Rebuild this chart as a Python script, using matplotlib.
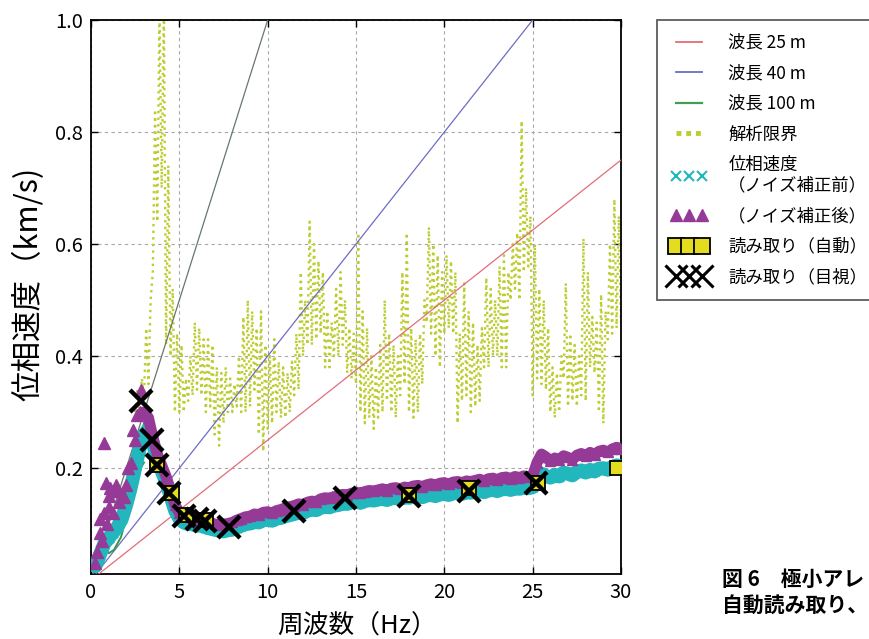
import numpy as np
import matplotlib
matplotlib.use("Agg")
import matplotlib.pyplot as plt
from matplotlib.lines import Line2D

plt.rcParams['font.family'] = ['Noto Sans CJK JP', 'DejaVu Sans']

# ---------------- data ----------------
# wavelength reference lines (m) -> v = f * lambda / 1000
wavelengths = [25, 40, 100]
line_freq = [0.0, 30.0]

# phase velocity before noise correction (cyan), f = 0.25..30 step 0.25
freq_cyan = np.arange(0.25, 30.001, 0.25)
v_cyan = [0.025, 0.045, 0.065, 0.075, 0.085, 0.095, 0.11, 0.135, 0.165, 0.2,
          0.235, 0.26, 0.27, 0.245, 0.215, 0.195, 0.175, 0.15, 0.125, 0.11,
          0.103, 0.1, 0.1, 0.097, 0.098, 0.094, 0.092, 0.09, 0.088, 0.087,
          0.089, 0.09, 0.094, 0.097, 0.1, 0.101, 0.104, 0.103, 0.107, 0.108,
          0.106, 0.11, 0.111, 0.114, 0.116, 0.118, 0.121, 0.12, 0.124, 0.126,
          0.125, 0.129, 0.131, 0.13, 0.133, 0.134, 0.137, 0.136, 0.139, 0.14,
          0.138, 0.141, 0.143, 0.142, 0.144, 0.145, 0.143, 0.146, 0.147, 0.145,
          0.148, 0.147, 0.149, 0.15, 0.148, 0.151, 0.152, 0.15, 0.153, 0.154,
          0.152, 0.155, 0.156, 0.154, 0.157, 0.156, 0.158, 0.159, 0.157, 0.16,
          0.161, 0.159, 0.162, 0.163, 0.161, 0.164, 0.163, 0.165, 0.164, 0.166,
          0.18, 0.19, 0.186, 0.183, 0.188, 0.185, 0.192, 0.19, 0.187, 0.193,
          0.196, 0.192, 0.197, 0.194, 0.199, 0.2, 0.197, 0.202, 0.205, 0.203]

# phase velocity after noise correction (purple), band part f = 3.0..30
freq_purple = np.arange(3.0, 30.001, 0.25)
v_purple = [0.3, 0.29, 0.255, 0.225, 0.205, 0.185, 0.16, 0.135, 0.12, 0.115,
            0.112, 0.11, 0.108, 0.108, 0.105, 0.103, 0.1, 0.099, 0.1, 0.101,
            0.103, 0.107, 0.11, 0.113, 0.114, 0.118, 0.117, 0.121, 0.122, 0.12,
            0.124, 0.126, 0.129, 0.131, 0.133, 0.136, 0.135, 0.139, 0.141, 0.14,
            0.145, 0.147, 0.146, 0.149, 0.15, 0.153, 0.152, 0.155, 0.157, 0.155,
            0.158, 0.16, 0.159, 0.161, 0.163, 0.16, 0.164, 0.165, 0.163, 0.166,
            0.165, 0.168, 0.169, 0.167, 0.17, 0.172, 0.169, 0.173, 0.174, 0.171,
            0.175, 0.176, 0.174, 0.177, 0.176, 0.178, 0.18, 0.177, 0.181, 0.182,
            0.179, 0.183, 0.184, 0.181, 0.185, 0.183, 0.186, 0.184, 0.187, 0.21,
            0.225, 0.22, 0.212, 0.218, 0.214, 0.222, 0.219, 0.215, 0.223, 0.226,
            0.221, 0.228, 0.224, 0.23, 0.232, 0.228, 0.234, 0.237, 0.235]

# purple scattered points at low frequency
freq_purple_low = [0.25, 0.35, 0.5, 0.5, 0.6, 0.75, 0.75, 0.85, 0.9, 1.0, 1.0, 1.1,
                   1.25, 1.25, 1.4, 1.5, 1.6, 1.75, 1.85, 2.0, 2.1, 2.25, 2.4,
                   2.5, 2.6, 2.75, 2.85]
v_purple_low = [0.03, 0.05, 0.085, 0.11, 0.07, 0.245, 0.12, 0.173, 0.1, 0.15, 0.13,
                0.165, 0.12, 0.16, 0.17, 0.16, 0.14, 0.15, 0.148, 0.17, 0.2,
                0.21, 0.268, 0.25, 0.295, 0.3, 0.34]

# green curve at low frequency
freq_green = [0.3, 0.55, 0.8, 1.0, 1.3, 1.7, 2.05, 2.3, 2.6, 2.8, 3.0]
v_green = [0.02, 0.045, 0.06, 0.048, 0.054, 0.077, 0.12, 0.16, 0.19, 0.2, 0.21]

# analysis limit: lower / upper envelope of the oscillating curve, f = 2.5..30
freq_limit = np.arange(2.5, 30.001, 0.25)
limit_lo = [0.3, 0.3, 0.33, 0.35, 0.55, 0.64, 0.7, 0.42, 0.4, 0.3,
            0.3, 0.3, 0.32, 0.33, 0.34, 0.33, 0.3, 0.31, 0.26, 0.24,
            0.28, 0.3, 0.3, 0.31, 0.3, 0.3, 0.31, 0.34, 0.26, 0.23,
            0.27, 0.28, 0.3, 0.29, 0.29, 0.3, 0.33, 0.34, 0.4, 0.42,
            0.42, 0.43, 0.44, 0.38, 0.38, 0.4, 0.4, 0.42, 0.37, 0.36,
            0.35, 0.3, 0.28, 0.29, 0.27, 0.29, 0.3, 0.32, 0.3, 0.29,
            0.33, 0.35, 0.3, 0.29, 0.3, 0.35, 0.46, 0.44, 0.4, 0.38,
            0.44, 0.45, 0.44, 0.28, 0.32, 0.33, 0.3, 0.31, 0.32, 0.38,
            0.38, 0.4, 0.4, 0.38, 0.38, 0.5, 0.52, 0.5, 0.55, 0.56,
            0.33, 0.36, 0.35, 0.34, 0.3, 0.29, 0.3, 0.36, 0.31, 0.32,
            0.31, 0.33, 0.32, 0.38, 0.37, 0.3, 0.28, 0.43, 0.44, 0.45, 0.46]
limit_hi = [0.34, 0.36, 0.45, 0.5, 0.84, 1.02, 1.02, 0.74, 0.52, 0.44,
            0.42, 0.36, 0.4, 0.46, 0.45, 0.43, 0.43, 0.42, 0.38, 0.37,
            0.38, 0.36, 0.35, 0.4, 0.47, 0.5, 0.48, 0.45, 0.48, 0.42,
            0.4, 0.43, 0.39, 0.38, 0.37, 0.39, 0.44, 0.55, 0.5, 0.64,
            0.6, 0.57, 0.55, 0.48, 0.46, 0.52, 0.55, 0.5, 0.45, 0.44,
            0.62, 0.48, 0.45, 0.4, 0.38, 0.42, 0.5, 0.44, 0.42, 0.4,
            0.55, 0.62, 0.45, 0.43, 0.44, 0.5, 0.63, 0.6, 0.58, 0.55,
            0.58, 0.57, 0.55, 0.44, 0.53, 0.48, 0.46, 0.42, 0.45, 0.54,
            0.52, 0.5, 0.56, 0.58, 0.55, 0.6, 0.62, 0.82, 0.7, 0.65,
            0.6, 0.52, 0.5, 0.45, 0.38, 0.37, 0.4, 0.53, 0.44, 0.42,
            0.4, 0.61, 0.55, 0.47, 0.46, 0.51, 0.48, 0.6, 0.68, 0.65, 0.6]

# picks: automatic (squares) and visual (X)
auto_f = [3.73, 4.6, 5.4, 6.5, 18.0, 21.4, 25.3, 29.8]
auto_v = [0.205, 0.155, 0.116, 0.107, 0.152, 0.164, 0.173, 0.2]
vis_f = [2.85, 3.45, 3.75, 4.4, 5.25, 6.0, 6.45, 7.8, 11.5, 14.4, 18.0, 21.4, 25.2]
vis_v = [0.32, 0.25, 0.205, 0.155, 0.115, 0.11, 0.105, 0.095, 0.123, 0.146, 0.15, 0.159, 0.174]

# ---------------- styling ----------------
C_RED = '#e36c7a'
C_BLUE = '#6c6cc4'
C_GREEN_LEG = '#3f9f55'
C_100 = '#66786a'
C_LIMIT = '#bccd30'
C_CYAN = '#22b6bd'
C_PURPLE = '#963a98'
C_SQ = '#e4dc1e'

fig = plt.figure(figsize=(8.69, 6.39), dpi=100)
ax = fig.add_axes([91 / 869, 1 - 574 / 639, (621 - 91) / 869, (574 - 20) / 639])

# analysis limit as zigzag between envelopes
zx, zy = [], []
for f, lo, hi in zip(freq_limit, limit_lo, limit_hi):
    zx += [f, f + 0.125]
    zy += [lo, hi]
ax.plot(zx, zy, color=C_LIMIT, lw=1.7, linestyle=(0, (1, 1.8)), zorder=2)

# wavelength lines
for wl, c in zip(wavelengths, [C_RED, C_BLUE, C_100]):
    ax.plot(line_freq, [line_freq[0] * wl / 1000, line_freq[1] * wl / 1000],
            color=c, lw=0.9, zorder=3)

# green low-frequency curve
ax.plot(freq_green, v_green, color='#2e9a48', lw=1.4, zorder=3)

# cyan band
ax.plot(freq_cyan, v_cyan, color=C_CYAN, lw=10, solid_joinstyle='round',
        solid_capstyle='round', zorder=4)
ax.plot(freq_cyan, v_cyan, linestyle='none', marker='x', ms=7, mew=1.5,
        color=C_CYAN, zorder=4)

# purple band
ax.plot(freq_purple, v_purple, color=C_PURPLE, lw=8, solid_joinstyle='round',
        solid_capstyle='round', zorder=5)
ax.plot(freq_purple, v_purple, linestyle='none', marker='^', ms=7,
        color=C_PURPLE, zorder=5)
ax.plot(freq_purple_low, v_purple_low, linestyle='none', marker='^', ms=8,
        color=C_PURPLE, zorder=5)

# picks
ax.plot(auto_f, auto_v, linestyle='none', marker='s', ms=10, mfc=C_SQ,
        mec='black', mew=1.3, zorder=6)
ax.plot(vis_f, vis_v, linestyle='none', marker='x', ms=16, mew=3.2,
        color='black', zorder=7)

ax.set_xlim(0, 30)
ax.set_ylim(0.011, 1.0)
ax.set_xticks([0, 5, 10, 15, 20, 25, 30])
ax.set_yticks([0.2, 0.4, 0.6, 0.8, 1.0])
ax.set_yticklabels(['0.2', '0.4', '0.6', '0.8', '1.0'])
ax.tick_params(direction='in', top=True, right=True, length=5, width=1,
               labelsize=14.5, pad=6)
ax.grid(True, color='#a8a8a8', linestyle=(0, (3, 3)), lw=0.8)
for s in ax.spines.values():
    s.set_linewidth(1.3)

fig.text(357 / 869, 1 - 627 / 639, '周波数（Hz）', ha='center', va='center', fontsize=18.5)
fig.text(28 / 869, 1 - 284 / 639, '位相速度（km/s)', ha='center', va='center',
         rotation=90, fontsize=22)

# legend
handles = [
    Line2D([], [], color=C_RED, lw=1.3),
    Line2D([], [], color=C_BLUE, lw=1.3),
    Line2D([], [], color=C_GREEN_LEG, lw=1.6),
    Line2D([], [], color=C_LIMIT, lw=3.5, linestyle=(0, (1, 1))),
    Line2D([], [], color=C_CYAN, linestyle='none', marker='x', ms=7, mew=1.5),
    Line2D([], [], color=C_PURPLE, linestyle='none', marker='^', ms=9),
    Line2D([], [], linestyle='none', marker='s', ms=11, mfc=C_SQ, mec='black', mew=1.3),
    Line2D([], [], color='black', linestyle='none', marker='x', ms=16, mew=2.2),
]
labels = ['波長 25 m', '波長 40 m', '波長 100 m', '解析限界',
          '位相速度\n（ノイズ補正前）', '（ノイズ補正後）',
          '読み取り（自動）', '読み取り（目視）']
leg = fig.legend(handles, labels, loc='upper left',
                 bbox_to_anchor=(657 / 869, 1 - 20 / 639), numpoints=3,
                 fontsize=12.5, frameon=True, fancybox=False, borderpad=0.8,
                 labelspacing=0.72, handlelength=2.1, handletextpad=1.2,
                 borderaxespad=0)
leg.get_frame().set_edgecolor('#333333')
leg.get_frame().set_linewidth(1.3)

fig.text(722 / 869, 1 - 579 / 639, '図 6　極小アレ', ha='left', va='center',
         fontsize=15, fontweight='bold')
fig.text(722 / 869, 1 - 605 / 639, '自動読み取り、', ha='left', va='center',
         fontsize=15, fontweight='bold')

fig.savefig('out.png', dpi=100, facecolor='white')
